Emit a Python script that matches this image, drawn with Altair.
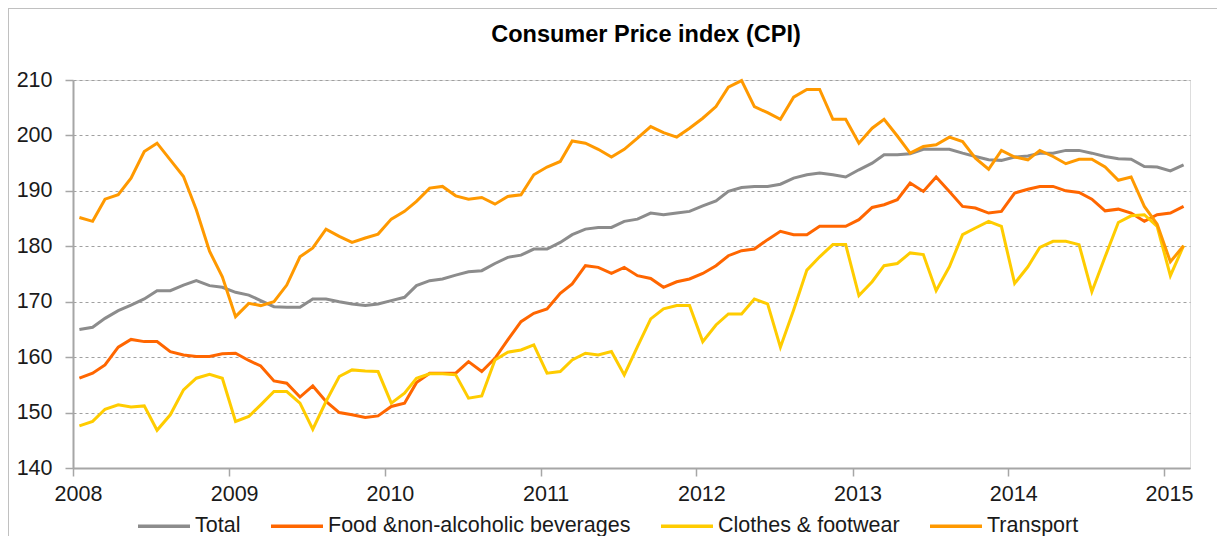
import altair as alt
import pandas as pd

# ---------------- data ----------------
chart_title = "Consumer Price index (CPI)"
series_names = ["Total", "Food &non-alcoholic beverages", "Clothes & footwear", "Transport"]
series_colors = ["#8c8c8c", "#ff6600", "#ffcc00", "#ff9900"]
year_ticks = [2008, 2009, 2010, 2011, 2012, 2013, 2014, 2015]
y_ticks = [140, 150, 160, 170, 180, 190, 200, 210]

# monthly values, Jan 2008 .. Feb 2015
total = [
    165.0, 165.4, 167.0, 168.4, 169.4, 170.5, 172.0, 172.0, 173.0, 173.8, 172.9, 172.6,
    171.7, 171.2, 170.2, 169.1, 169.0, 169.0, 170.5, 170.5, 170.0, 169.6, 169.3, 169.6,
    170.2, 170.8, 172.9, 173.8, 174.1, 174.8, 175.4, 175.6, 176.9, 178.0, 178.4, 179.5,
    179.5, 180.7, 182.1, 183.1, 183.4, 183.4, 184.5, 184.9, 186.0, 185.7, 186.0, 186.3,
    187.3, 188.2, 189.9, 190.6, 190.8, 190.8, 191.2, 192.3, 192.9, 193.2, 192.9, 192.5,
    193.8, 195.0, 196.5, 196.5, 196.7, 197.5, 197.5, 197.5, 196.8, 196.2, 195.6, 195.5,
    196.1, 196.3, 196.8, 196.8, 197.3, 197.3, 196.8, 196.2, 195.8, 195.7, 194.4, 194.3,
    193.6, 194.7,
]
food = [
    156.2, 157.1, 158.6, 161.8, 163.2, 162.8, 162.8, 161.0, 160.4, 160.1, 160.1, 160.6,
    160.7, 159.4, 158.4, 155.7, 155.3, 152.8, 154.8, 152.0, 150.0, 149.6, 149.1, 149.4,
    151.1, 151.7, 155.4, 157.1, 157.1, 157.1, 159.2, 157.4, 159.8, 163.1, 166.4, 167.9,
    168.7, 171.5, 173.2, 176.5, 176.2, 175.1, 176.2, 174.7, 174.2, 172.6, 173.6, 174.1,
    175.1, 176.5, 178.3, 179.2, 179.5, 181.2, 182.7, 182.1, 182.1, 183.6, 183.6, 183.6,
    184.8, 187.0, 187.5, 188.4, 191.4, 189.9, 192.5, 189.9, 187.2, 186.9, 186.0, 186.3,
    189.6, 190.3, 190.8, 190.8, 190.0, 189.7, 188.5, 186.4, 186.7, 186.0, 184.5, 185.7,
    186.0, 187.2,
]
clothes = [
    147.6, 148.4, 150.6, 151.4, 151.0, 151.2, 146.8, 149.6, 154.1, 156.2, 156.9, 156.2,
    148.4, 149.3, 151.4, 153.8, 153.8, 151.7, 147.0, 152.0, 156.5, 157.7, 157.5, 157.4,
    151.7, 153.5, 156.2, 157.0, 157.0, 156.8, 152.6, 153.0, 159.5, 160.9, 161.3, 162.2,
    157.1, 157.4, 159.5, 160.7, 160.4, 161.0, 156.8, 161.9, 166.9, 168.7, 169.3, 169.3,
    162.8, 165.8, 167.8, 167.8, 170.5, 169.6, 161.8, 168.5, 175.7, 178.1, 180.3, 180.3,
    171.1, 173.6, 176.5, 176.9, 178.8, 178.5, 172.0, 176.3, 182.1, 183.3, 184.5, 183.6,
    173.3, 176.3, 179.8, 180.9, 180.9, 180.3, 171.8, 178.1, 184.3, 185.5, 185.7, 183.6,
    174.7, 180.1,
]
transport = [
    185.2, 184.5, 188.5, 189.3, 192.3, 197.1, 198.6, 195.6, 192.6, 186.6, 179.1, 174.5,
    167.3, 169.7, 169.3, 170.0, 173.0, 178.1, 179.7, 183.1, 181.8, 180.7, 181.5, 182.2,
    184.9, 186.3, 188.1, 190.5, 190.8, 189.1, 188.5, 188.8, 187.6, 189.0, 189.3, 192.9,
    194.3, 195.3, 199.0, 198.6, 197.5, 196.1, 197.5, 199.5, 201.6, 200.5, 199.7, 201.3,
    203.1, 205.2, 208.7, 209.9, 205.2, 204.1, 202.9, 206.9, 208.3, 208.3, 202.9, 202.9,
    198.6, 201.3, 202.9, 199.9, 196.8, 198.0, 198.3, 199.7, 198.9, 195.9, 193.9, 197.3,
    196.1, 195.6, 197.3, 196.2, 194.9, 195.7, 195.7, 194.3, 191.9, 192.5, 187.2, 184.0,
    177.2, 180.1,
]

# mid-month dates
months = pd.date_range("2008-01-01", periods=len(total), freq="MS") + pd.Timedelta(days=15)
dates = [d.strftime("%Y-%m-%dT00:00:00") for d in months]

rows = []
for name, vals in zip(series_names, [total, food, clothes, transport]):
    for d, v in zip(dates, vals):
        rows.append({"date": d, "series": name, "value": v})
df = pd.DataFrame(rows)

FONT = "Liberation Sans"
W, H = 1117, 388
PAD = {"left": 65, "top": 72, "right": 27, "bottom": 68}

lines = alt.Chart(df).mark_line(strokeWidth=3, clip=False).encode(
    x=alt.X(
        "date:T",
        scale=alt.Scale(domain=[alt.DateTime(year=2008, month=1, date=1),
                                alt.DateTime(year=2015, month=3, date=3)]),
        axis=alt.Axis(
            values=[alt.DateTime(year=y, month=1, date=1) for y in year_ticks],
            format="%Y", title=None, grid=False, labelOffset=5, labelFlush=False,
            tickSize=8, labelPadding=7, labelFontSize=21.5, labelColor="#1a1a1a",
            domainColor="#a6a6a6", domainWidth=2, tickColor="#a6a6a6", tickWidth=1.5,
            labelFont=FONT,
        ),
    ),
    y=alt.Y(
        "value:Q",
        scale=alt.Scale(domain=[140, 210], nice=False, zero=False),
        axis=alt.Axis(
            values=y_ticks, title=None, grid=True, gridDash=[3, 3], gridColor="#a0a0a0",
            gridWidth=1, tickSize=8, labelPadding=13, labelFontSize=21.5,
            labelColor="#1a1a1a", domainColor="#a6a6a6", domainWidth=2,
            tickColor="#a6a6a6", tickWidth=1.5, labelFont=FONT,
        ),
    ),
    color=alt.Color(
        "series:N",
        scale=alt.Scale(domain=series_names, range=series_colors),
        sort=series_names,
        legend=alt.Legend(
            title=None, orient="none", legendX=63, legendY=418, direction="horizontal",
            symbolType="stroke", symbolSize=2704, symbolStrokeWidth=3.5,
            labelFontSize=21.5, labelOffset=3, columnPadding=23, labelColor="#1a1a1a",
            labelFont=FONT, labelLimit=0,
        ),
    ),
)

one_row = alt.Data(values=[{"label": chart_title}])
title_mark = alt.Chart(one_row).mark_text(
    font=FONT, fontSize=23.5, fontWeight="bold", color="#000000",
    align="center", baseline="middle", clip=False,
).encode(text="label:N", x=alt.value(573), y=alt.value(-45))

frame_top = alt.Chart(one_row).mark_rule(color="#c0c0c0", strokeWidth=2, clip=False).encode(
    x=alt.value(-65), x2=alt.value(W + PAD["right"]), y=alt.value(-72)
)
frame_left = alt.Chart(one_row).mark_rule(color="#c0c0c0", strokeWidth=2, clip=False).encode(
    x=alt.value(-65), y=alt.value(-72), y2=alt.value(H + PAD["bottom"])
)

chart = alt.layer(frame_top, frame_left, title_mark, lines).properties(
    width=W,
    height=H,
    autosize=alt.AutoSizeParams(type="none"),
    padding=PAD,
).configure_view(stroke=None).configure(background="white", font=FONT)

chart.save("out.html", embed_options={"renderer": "svg", "actions": False})
